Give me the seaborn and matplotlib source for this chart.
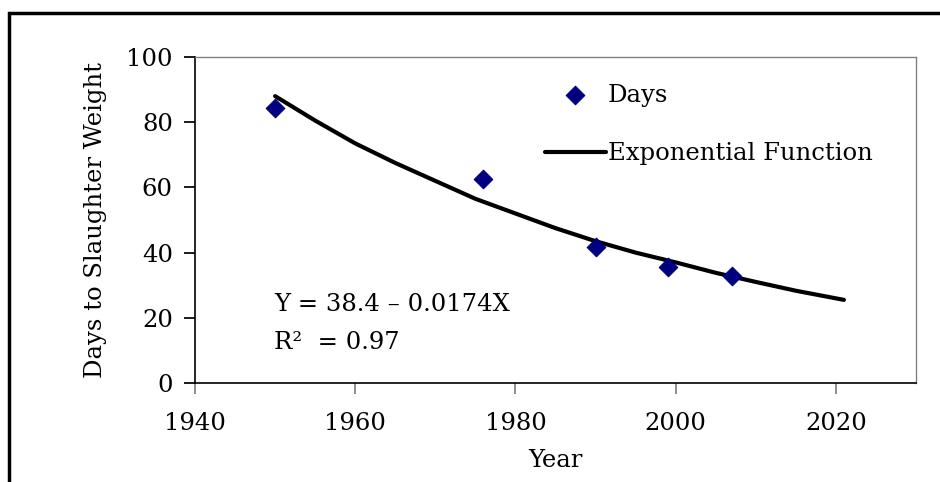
import matplotlib
matplotlib.use("Agg")
import matplotlib.pyplot as plt
import matplotlib.patches as mpatches
import pandas as pd
import seaborn as sns

# observed points
years = [1950, 1976, 1990, 1999, 2007]
days = [84.5, 62.7, 41.7, 35.7, 32.8]

# fitted exponential curve
fit_years = [1950, 1955, 1960, 1965, 1970, 1975, 1980, 1985, 1990,
             1995, 2000, 2005, 2010, 2015, 2021]
fit_days = [88.0, 80.5, 73.5, 67.5, 62.0, 56.5, 52.0, 47.5, 43.5,
            40.0, 37.0, 33.8, 31.0, 28.3, 25.5]

x_ticks = [1940, 1960, 1980, 2000, 2020]
y_ticks = [0, 20, 40, 60, 80, 100]

FS = 17.5

sns.set_theme(style="white")
plt.rcParams["font.family"] = ["DejaVu Serif"]
plt.rcParams["text.color"] = "black"
plt.rcParams["axes.labelcolor"] = "black"

fig = plt.figure(figsize=(9.4, 4.82), dpi=100)
ax = fig.add_axes([195 / 940, 99 / 482, 721 / 940, 326 / 482])

pts = pd.DataFrame({"Year": years, "Days": days})
fit = pd.DataFrame({"Year": fit_years, "Days": fit_days})

sns.lineplot(data=fit, x="Year", y="Days", ax=ax, color="black", lw=3,
             label="Exponential Function")
sns.scatterplot(data=pts, x="Year", y="Days", ax=ax, marker="D", s=90,
                color="#000080", edgecolor="#000080", label="Days", zorder=3)

ax.set_xlim(1940, 2030)
ax.set_ylim(0, 100)
ax.set_xticks(x_ticks)
ax.set_yticks(y_ticks)
ax.tick_params(axis="both", labelsize=FS, length=8, direction="out",
               colors="black", left=True, bottom=True)
ax.tick_params(axis="y", pad=8)
ax.tick_params(axis="x", color="#808080", pad=13)
ax.set_xlabel("Year", fontsize=FS, labelpad=10)
ax.set_ylabel("Days to Slaughter Weight", fontsize=FS, labelpad=14)

for side in ["top", "right"]:
    ax.spines[side].set_color("#808080")
    ax.spines[side].set_linewidth(1)
for side in ["left", "bottom"]:
    ax.spines[side].set_color("black")
    ax.spines[side].set_linewidth(1.2)

handles, labels = ax.get_legend_handles_labels()
ax.legend(handles[::-1], labels[::-1], loc="upper left",
          bbox_to_anchor=(0.455, 0.985), frameon=False, fontsize=FS,
          handlelength=2.5, labelspacing=1.45, handletextpad=0.1)

ax.text(0.11, 0.24, "Y = 38.4 \u2013 0.0174X", transform=ax.transAxes,
        fontsize=FS, va="center", ha="left")
ax.text(0.11, 0.125, "R\u00b2  = 0.97", transform=ax.transAxes,
        fontsize=FS, va="center", ha="left")

# outer frame, clipped at the right and bottom
fig.patches.append(mpatches.Rectangle((9 / 940, -0.1), 1.2, 1.1 - 13 / 482,
                                      transform=fig.transFigure, fill=False,
                                      edgecolor="black", lw=2.5))

fig.savefig("out.png", dpi=100)
